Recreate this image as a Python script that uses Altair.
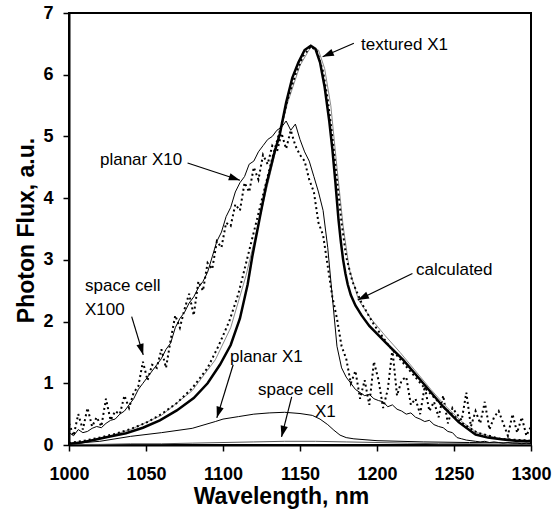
import math
import altair as alt
import pandas as pd

# ---------------- data ----------------
# textured X1 (thick solid)
tex_wl = [1000, 1008, 1016, 1025, 1037, 1048, 1059, 1070, 1081, 1090, 1098, 1105, 1111, 1116, 1119, 1124,
          1128, 1133, 1137, 1141, 1145, 1149, 1153, 1157, 1160, 1163, 1166, 1169, 1171, 1173, 1175, 1176.5,
          1178, 1179.5, 1181, 1183, 1186, 1190, 1195, 1206, 1217, 1230, 1243, 1253, 1264, 1272, 1282, 1290, 1300]
tex_val = [0.02, 0.04, 0.08, 0.13, 0.19, 0.28, 0.4, 0.56, 0.76, 1.0, 1.3, 1.62, 2.05, 2.6, 3.05, 3.7,
           4.2, 4.7, 5.05, 5.55, 5.95, 6.2, 6.4, 6.47, 6.42, 6.2, 5.8, 5.25, 4.8, 4.25, 3.65, 3.3,
           3.0, 2.78, 2.6, 2.43, 2.26, 2.1, 1.93, 1.65, 1.38, 1.0, 0.62, 0.37, 0.17, 0.12, 0.09, 0.07, 0.06]

# textured, dotted measurement
texd_wl = [1000, 1010, 1020, 1030, 1040, 1050, 1060, 1070, 1080, 1090, 1097, 1104, 1110, 1115, 1120, 1126,
           1132, 1137, 1142, 1147, 1152, 1157, 1161, 1165, 1168, 1171, 1174, 1177, 1180, 1184, 1190, 1198,
           1208, 1218, 1230, 1243, 1255, 1265, 1280, 1300]
texd_val = [0.03, 0.07, 0.12, 0.18, 0.26, 0.36, 0.5, 0.68, 0.92, 1.25, 1.6, 2.0, 2.45, 2.95, 3.45, 4.05,
            4.65, 5.1, 5.6, 6.0, 6.3, 6.46, 6.38, 6.05, 5.6, 5.0, 4.3, 3.6, 3.05, 2.65, 2.3, 1.95,
            1.6, 1.3, 0.95, 0.62, 0.36, 0.2, 0.1, 0.07]

# calculated (thin grey)
calc_wl = [1000, 1020, 1040, 1060, 1080, 1095, 1105, 1115, 1125, 1135, 1142, 1150, 1157, 1162, 1166, 1170,
           1174, 1178, 1182, 1188, 1196, 1205, 1215, 1225, 1235, 1245, 1255, 1265, 1280, 1300]
calc_val = [0.02, 0.1, 0.25, 0.48, 0.88, 1.38, 1.9, 2.75, 3.8, 4.85, 5.55, 6.15, 6.45, 6.4, 6.1, 5.5,
            4.5, 3.55, 2.85, 2.35, 2.05, 1.78, 1.5, 1.2, 0.9, 0.62, 0.38, 0.2, 0.1, 0.07]

# 3 nm grid for the two noisy spectra
grid_wl = list(range(1000, 1301, 3))

# planar X10 (thin solid)
p10_val = [0.2, 0.15, 0.25, 0.2, 0.22, 0.27, 0.3, 0.28, 0.35, 0.4,
           0.42, 0.5, 0.55, 0.65, 0.75, 0.9, 1.0, 1.1, 1.2, 1.3,
           1.4, 1.55, 1.65, 1.9, 2.05, 2.15, 2.3, 2.4, 2.55, 2.65,
           2.8, 3.05, 3.3, 3.45, 3.7, 3.85, 4.1, 4.25, 4.35, 4.55,
           4.6, 4.75, 4.85, 4.95, 5.0, 5.1, 5.15, 5.25, 5.1, 5.2,
           4.95, 4.75, 4.6, 4.35, 4.1, 3.8, 3.2, 2.4, 1.6, 1.25,
           1.1, 1.0, 0.9, 0.85, 0.8, 0.82, 0.75, 0.72, 0.7, 0.62,
           0.65, 0.58, 0.55, 0.5, 0.52, 0.45, 0.42, 0.38, 0.4, 0.33,
           0.3, 0.28, 0.22, 0.2, 0.12, 0.1, 0.08, 0.07, 0.06, 0.05,
           0.06, 0.04, 0.05, 0.04, 0.03, 0.04, 0.03, 0.03, 0.02, 0.03,
           0.02]

# space cell X100 (dotted, noisy)
s100_val = [0.35, 0.15, 0.5, 0.25, 0.6, 0.3, 0.45, 0.3, 0.75, 0.4,
            0.55, 0.5, 0.8, 0.6, 0.85, 0.95, 1.35, 1.05, 1.3, 1.25,
            1.55, 1.25, 1.7, 2.1, 1.9, 2.2, 2.45, 2.1, 2.65, 2.5,
            2.95, 2.85, 3.3, 3.2, 3.6, 3.55, 3.9, 3.8, 4.25, 4.1,
            4.5, 4.3, 4.7, 4.55, 4.85, 4.75, 5.05, 4.8, 5.1, 4.85,
            4.7, 4.6, 4.3, 4.1, 3.6, 3.4, 2.9, 2.4, 2.05, 1.6,
            1.4, 1.0, 1.2, 0.75, 1.05, 0.65, 1.35, 1.05, 0.6, 0.9,
            1.55, 0.8, 1.05, 1.1, 0.65, 0.75, 0.5, 0.95, 0.55, 0.7,
            0.45, 0.8, 0.35, 0.6, 0.5, 0.4, 0.85, 0.3, 0.55, 0.35,
            0.7, 0.25, 0.45, 0.55, 0.35, 0.15, 0.5, 0.2, 0.45, 0.15,
            0.3]

# planar X1 (thin solid)
p1_wl = [1000, 1020, 1040, 1060, 1080, 1095, 1100, 1110, 1120, 1130, 1140, 1150, 1158, 1163, 1168, 1172,
         1176, 1180, 1185, 1200, 1230, 1260, 1300]
p1_val = [0.02, 0.06, 0.14, 0.2, 0.27, 0.38, 0.42, 0.46, 0.5, 0.52, 0.53, 0.51, 0.48, 0.42, 0.33, 0.24,
          0.16, 0.12, 0.1, 0.07, 0.05, 0.04, 0.03]

# space cell X1 (near zero)
s1_wl = [1000, 1020, 1040, 1060, 1080, 1100, 1120, 1140, 1160, 1180, 1200, 1220, 1240, 1260, 1280, 1300]
s1_val = [0.01, 0.01, 0.02, 0.02, 0.03, 0.04, 0.05, 0.06, 0.06, 0.05, 0.04, 0.03, 0.02, 0.02, 0.01, 0.01]

# annotations
lab_text = ["planar X10", "textured X1", "calculated", "space cell", "X100", "planar X1", "space cell", "X1"]
lab_x = [1020.1, 1189.6, 1225.3, 1010.4, 1010.4, 1104.5, 1122.7, 1159.7]
lab_y = [4.62, 6.48, 2.84, 2.58, 2.19, 1.43, 0.89, 0.53]

arr_x1 = [1077.0, 1185.0, 1223.0, 1040.7, 1106.6, 1144.6]
arr_y1 = [4.57, 6.51, 2.78, 2.08, 1.30, 0.78]
arr_x2 = [1111.0, 1164.7, 1187.5, 1048.2, 1096.0, 1138.0]
arr_y2 = [4.29, 6.29, 2.35, 1.46, 0.44, 0.13]

x_ticks = [1000, 1050, 1100, 1150, 1200, 1250, 1300]
y_ticks = [0, 1, 2, 3, 4, 5, 6, 7]

# ---------------- chart ----------------
W, H = 462, 432
XMIN, XMAX, YMIN, YMAX = 1000, 1300, 0, 7
FONT = "Liberation Sans"

xscale = alt.Scale(domain=[XMIN, XMAX], nice=False, zero=False)
yscale = alt.Scale(domain=[YMIN, YMAX], nice=False)

xaxis = alt.Axis(values=x_ticks, format="d", grid=False, labelFlush=False, labelOverlap=False,
                 tickSize=6, tickWidth=1.5, tickColor="black",
                 domainColor="black", domainWidth=2,
                 labelFont=FONT, labelFontWeight="bold", labelFontSize=18, labelColor="black",
                 labelPadding=14,
                 titleFont=FONT, titleFontWeight="bold", titleFontSize=23, titleColor="black",
                 titleX=212, titleY=58, titleBaseline="alphabetic", titleAlign="center")
yaxis = alt.Axis(values=y_ticks, format="d", grid=False, labelOverlap=False,
                 tickSize=6, tickWidth=1.5, tickColor="black",
                 domainColor="black", domainWidth=2,
                 labelFont=FONT, labelFontWeight="bold", labelFontSize=18, labelColor="black",
                 labelPadding=10,
                 titleFont=FONT, titleFontWeight="bold", titleFontSize=23, titleColor="black",
                 titleAngle=270, titleX=-36, titleY=217, titleBaseline="alphabetic", titleAlign="center")


def line_layer(wl, vals, **mark):
    df = pd.DataFrame({"wl": wl, "v": vals, "i": list(range(len(wl)))})
    return alt.Chart(df).mark_line(clip=True, **mark).encode(
        x=alt.X("wl:Q", scale=xscale, axis=xaxis, title="Wavelength, nm"),
        y=alt.Y("v:Q", scale=yscale, axis=yaxis, title="Photon Flux, a.u."),
        order="i:Q",
    )


layers = [
    line_layer(s1_wl, s1_val, color="#555555", strokeWidth=1),
    line_layer(p1_wl, p1_val, color="black", strokeWidth=1),
    line_layer(grid_wl, p10_val, color="black", strokeWidth=1),
    line_layer(grid_wl, s100_val, color="black", strokeWidth=2, strokeDash=[2, 3]),
    line_layer(calc_wl, calc_val, color="#8a8a8a", strokeWidth=1),
    line_layer(texd_wl, texd_val, color="black", strokeWidth=2, strokeDash=[2, 3]),
    line_layer(tex_wl, tex_val, color="black", strokeWidth=2.5),
]

# annotation text
lab_df = pd.DataFrame({"x": lab_x, "y": lab_y, "t": lab_text})
labels = alt.Chart(lab_df).mark_text(align="left", baseline="middle", font=FONT,
                                     fontSize=17, color="black").encode(
    x=alt.X("x:Q", scale=xscale), y=alt.Y("y:Q", scale=yscale), text="t:N")

# arrows
px_x = W / (XMAX - XMIN)
px_y = H / (YMAX - YMIN)
angles = []
for a, b, c, d in zip(arr_x1, arr_y1, arr_x2, arr_y2):
    dx = (c - a) * px_x
    dy = -(d - b) * px_y
    angles.append(math.degrees(math.atan2(dx, -dy)) % 360)
arr_df = pd.DataFrame({"x1": arr_x1, "y1": arr_y1, "x2": arr_x2, "y2": arr_y2, "ang": angles})

shafts = alt.Chart(arr_df).mark_rule(color="black", strokeWidth=1.2).encode(
    x=alt.X("x1:Q", scale=xscale), y=alt.Y("y1:Q", scale=yscale), x2="x2:Q", y2="y2:Q")
heads = alt.Chart(arr_df).mark_point(shape="M0,0 L-0.33,1 L0.33,1 Z", filled=True, color="black",
                                     opacity=1, size=500, strokeWidth=0).encode(
    x=alt.X("x2:Q", scale=xscale), y=alt.Y("y2:Q", scale=yscale),
    angle=alt.Angle("ang:Q", scale=None))

chart = alt.layer(*layers, shafts, heads, labels).properties(
    width=W, height=H,
    padding={"left": 69, "top": 13, "right": 25, "bottom": 70},
    autosize=alt.AutoSizeParams(type="none"),
    background="white",
).configure_view(stroke="black", strokeWidth=2)

chart.save("out.html", embed_options={"renderer": "svg", "actions": False})
